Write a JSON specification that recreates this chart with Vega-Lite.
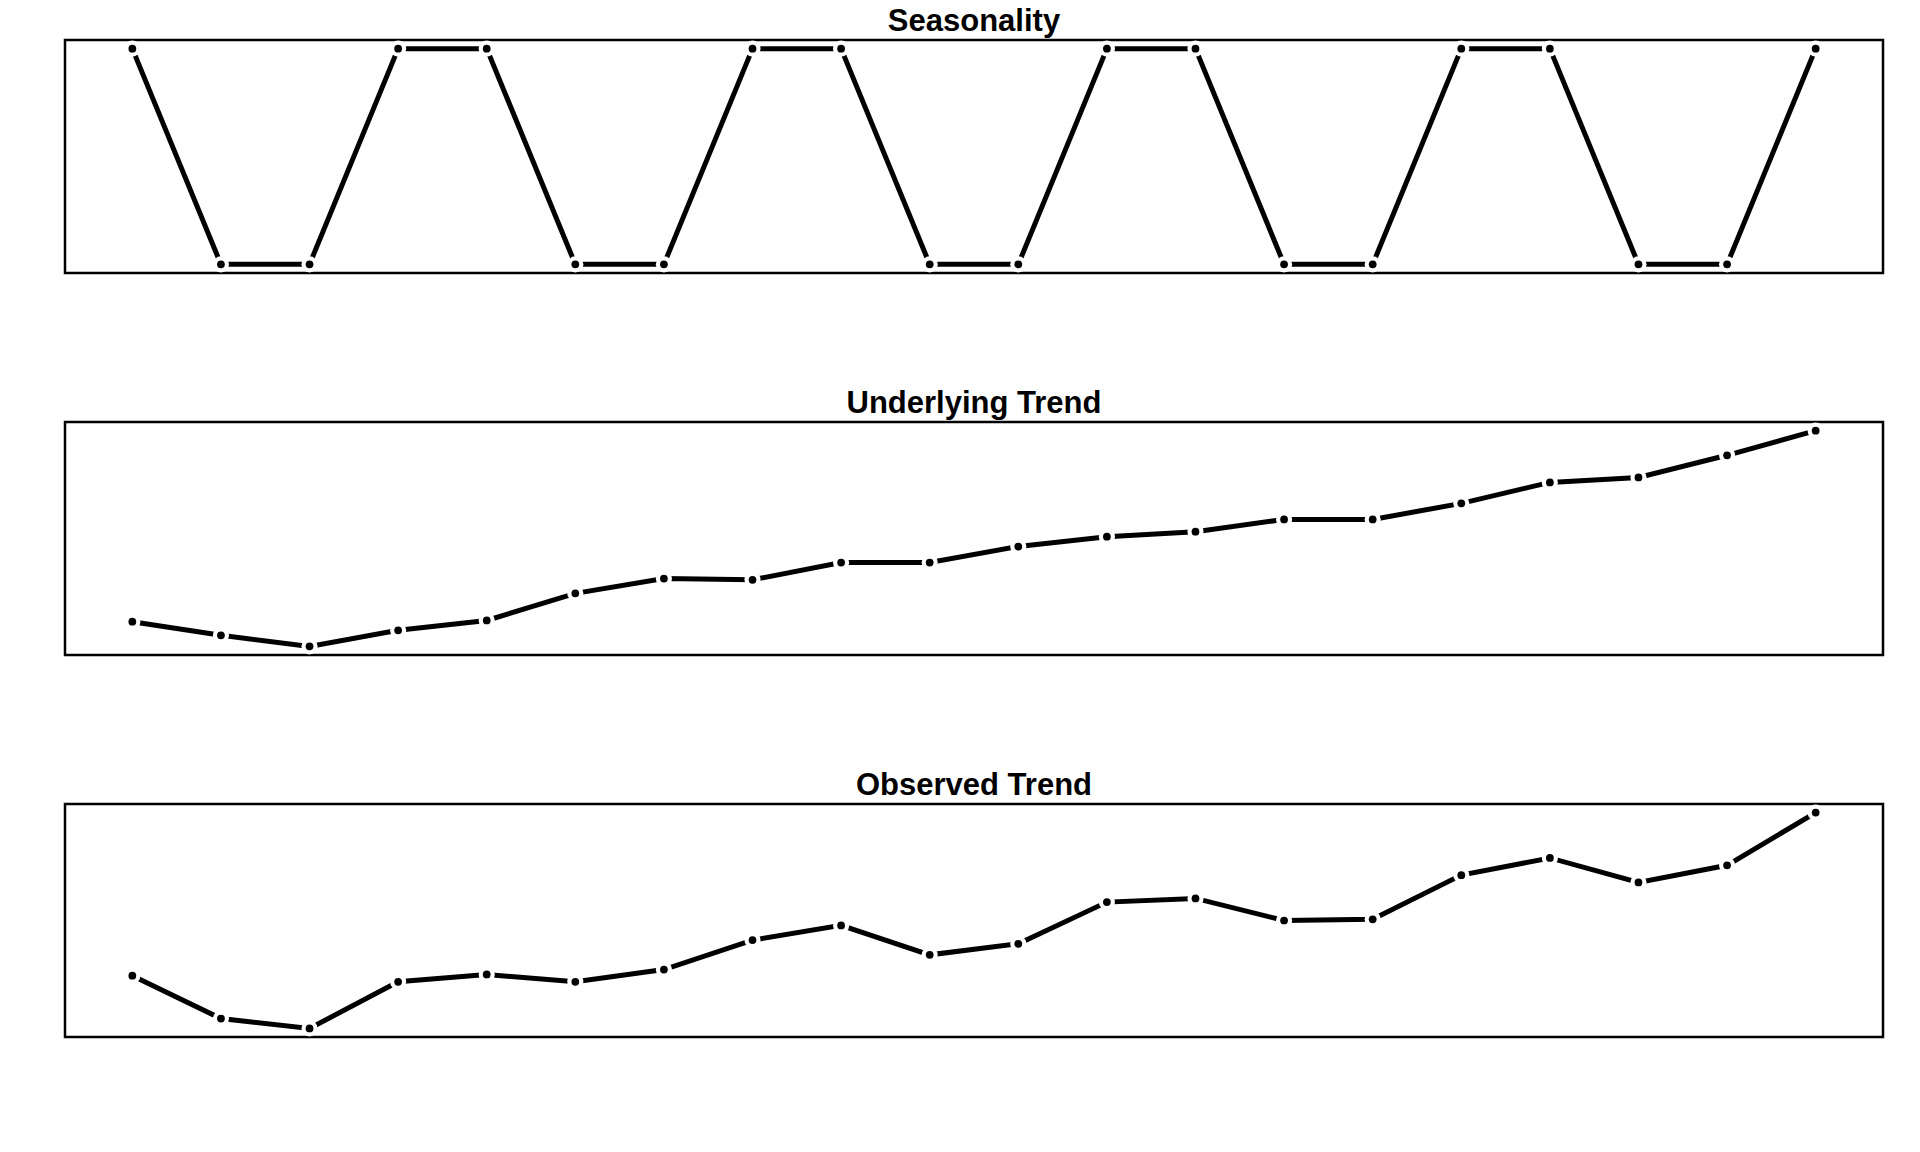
{
"$schema":"https://vega.github.io/schema/vega-lite/v6.json",
"background":"white",
"padding":{"left":63,"top":4,"right":10,"bottom":5},
"spacing":110,
"config":{"view":{"stroke":"black","strokeWidth":2.5},"font":"Liberation Sans","title":{"fontSize":31,"fontWeight":"bold","color":"black","offset":1,"font":"Liberation Sans"},"axis":{"disable":true}},
"data":{"values":[
{"x":1,"s":1,"u":27,"o":50},{"x":2,"s":-1,"u":16,"o":15},{"x":3,"s":-1,"u":7,"o":7},{"x":4,"s":1,"u":20,"o":45},{"x":5,"s":1,"u":28,"o":51},
{"x":6,"s":-1,"u":50,"o":45},{"x":7,"s":-1,"u":62,"o":55},{"x":8,"s":1,"u":61,"o":79},{"x":9,"s":1,"u":75,"o":91},{"x":10,"s":-1,"u":75,"o":67},
{"x":11,"s":-1,"u":88,"o":76},{"x":12,"s":1,"u":96,"o":110},{"x":13,"s":1,"u":100,"o":113},{"x":14,"s":-1,"u":110,"o":95},{"x":15,"s":-1,"u":110,"o":96},
{"x":16,"s":1,"u":123,"o":132},{"x":17,"s":1,"u":140,"o":146},{"x":18,"s":-1,"u":144,"o":126},{"x":19,"s":-1,"u":162,"o":140},{"x":20,"s":1,"u":182,"o":183}
]},
"vconcat":[
{"title":"Seasonality","width":1818,"height":233,
 "encoding":{"x":{"field":"x","type":"quantitative","scale":{"domain":[0.24,20.76],"nice":false,"zero":false}},"y":{"field":"s","type":"quantitative","scale":{"domain":[-1.08,1.08],"nice":false,"zero":false}}},
 "layer":[{"mark":{"type":"line","color":"black","strokeWidth":5}},{"mark":{"type":"circle","color":"white","size":260,"opacity":1}},{"mark":{"type":"circle","color":"black","size":60,"opacity":1}}]},
{"title":"Underlying Trend","width":1818,"height":233,
 "encoding":{"x":{"field":"x","type":"quantitative","scale":{"domain":[0.24,20.76],"nice":false,"zero":false}},"y":{"field":"u","type":"quantitative","scale":{"domain":[0,189],"nice":false,"zero":false}}},
 "layer":[{"mark":{"type":"line","color":"black","strokeWidth":5}},{"mark":{"type":"circle","color":"white","size":260,"opacity":1}},{"mark":{"type":"circle","color":"black","size":60,"opacity":1}}]},
{"title":"Observed Trend","width":1818,"height":233,
 "encoding":{"x":{"field":"x","type":"quantitative","scale":{"domain":[0.24,20.76],"nice":false,"zero":false}},"y":{"field":"o","type":"quantitative","scale":{"domain":[0,190],"nice":false,"zero":false}}},
 "layer":[{"mark":{"type":"line","color":"black","strokeWidth":5}},{"mark":{"type":"circle","color":"white","size":260,"opacity":1}},{"mark":{"type":"circle","color":"black","size":60,"opacity":1}}]}
]}
